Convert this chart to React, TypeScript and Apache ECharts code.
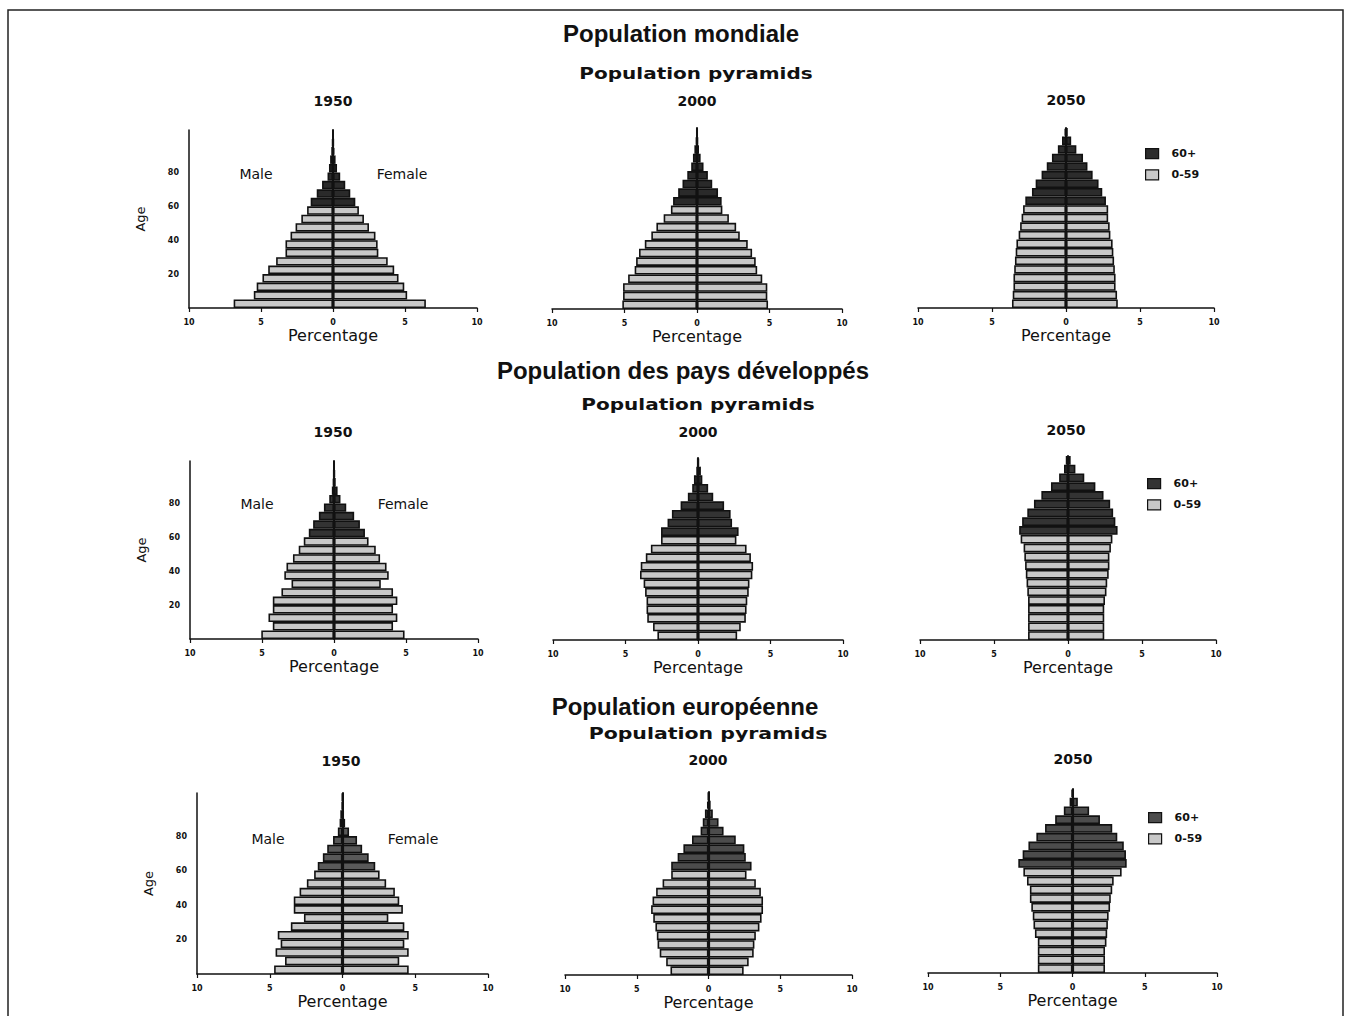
import React, { useEffect, useRef } from "react";
import * as echarts from "echarts";

// ---------- data ----------
const ageGroups = [
  "0-4", "5-9", "10-14", "15-19", "20-24", "25-29", "30-34", "35-39", "40-44", "45-49",
  "50-54", "55-59", "60-64", "65-69", "70-74", "75-79", "80-84", "85-89", "90-94", "95-99", "100+",
];
const oldStartIndex = 12; // 60+
const ageTicks = [20, 40, 60, 80];
const years = ["1950", "2000", "2050"];
const regionTitles = ["Population mondiale", "Population des pays développés", "Population européenne"];
const subTitle = "Population pyramids";
const legendNames = ["60+", "0-59"];

const world1950Male = [6.9, 5.5, 5.3, 4.9, 4.5, 3.95, 3.3, 3.3, 2.95, 2.6, 2.2, 1.8, 1.55, 1.13, 0.76, 0.38, 0.28, 0.2, 0.12, 0.06, 0.02];
const world1950Female = [6.45, 5.15, 4.95, 4.55, 4.25, 3.8, 3.15, 3.1, 2.95, 2.5, 2.15, 1.8, 1.55, 1.2, 0.85, 0.5, 0.28, 0.18, 0.1, 0.05, 0.02];
const world2000Male = [5.15, 5.1, 5.1, 4.75, 4.3, 4.2, 4.0, 3.6, 3.15, 2.8, 2.3, 1.8, 1.65, 1.3, 1.0, 0.67, 0.4, 0.28, 0.18, 0.08, 0.03];
const world2000Female = [4.9, 4.85, 4.85, 4.5, 4.15, 4.05, 3.8, 3.5, 2.95, 2.7, 2.2, 1.75, 1.7, 1.45, 1.05, 0.75, 0.45, 0.25, 0.14, 0.07, 0.03];
const world2050Male = [3.65, 3.6, 3.55, 3.55, 3.5, 3.45, 3.4, 3.35, 3.2, 3.1, 3.0, 2.9, 2.75, 2.3, 2.05, 1.65, 1.3, 0.95, 0.55, 0.27, 0.1];
const world2050Female = [3.5, 3.45, 3.35, 3.35, 3.3, 3.25, 3.2, 3.15, 3.0, 2.95, 2.85, 2.85, 2.7, 2.45, 2.2, 1.8, 1.45, 1.15, 0.7, 0.35, 0.12];

const dev1950Male = [5.05, 4.25, 4.55, 4.25, 4.25, 3.65, 2.95, 3.45, 3.3, 2.85, 2.45, 2.1, 1.75, 1.45, 1.05, 0.7, 0.33, 0.15, 0.08, 0.04, 0.02];
const dev1950Female = [4.9, 4.1, 4.4, 4.1, 4.4, 4.1, 3.25, 3.8, 3.65, 3.2, 2.9, 2.4, 2.15, 1.8, 1.4, 0.85, 0.45, 0.25, 0.12, 0.06, 0.03];
const dev2000Male = [2.8, 3.1, 3.5, 3.55, 3.55, 3.65, 3.75, 4.0, 3.95, 3.6, 3.25, 2.55, 2.55, 2.1, 1.8, 1.2, 0.7, 0.4, 0.28, 0.12, 0.04];
const dev2000Female = [2.7, 2.95, 3.3, 3.35, 3.4, 3.5, 3.55, 3.75, 3.8, 3.65, 3.35, 2.65, 2.8, 2.35, 2.25, 1.8, 1.05, 0.7, 0.3, 0.2, 0.06];
const dev2050Male = [2.7, 2.7, 2.7, 2.7, 2.7, 2.75, 2.8, 2.85, 2.9, 2.95, 3.0, 3.2, 3.3, 3.1, 2.75, 2.3, 1.8, 1.15, 0.6, 0.27, 0.15];
const dev2050Female = [2.45, 2.45, 2.45, 2.45, 2.5, 2.6, 2.65, 2.75, 2.8, 2.8, 2.9, 3.0, 3.35, 3.2, 3.05, 2.85, 2.4, 1.85, 1.1, 0.5, 0.18];

const eu1950Male = [4.7, 3.95, 4.6, 4.25, 4.45, 3.55, 2.65, 3.35, 3.35, 2.95, 2.45, 1.95, 1.7, 1.35, 1.05, 0.65, 0.32, 0.2, 0.15, 0.05, 0.02];
const eu1950Female = [4.55, 3.9, 4.55, 4.25, 4.55, 4.25, 3.15, 4.15, 3.9, 3.6, 3.0, 2.55, 2.25, 1.8, 1.35, 1.0, 0.45, 0.18, 0.1, 0.05, 0.02];
const eu2000Male = [2.65, 2.95, 3.4, 3.55, 3.6, 3.7, 3.85, 4.0, 3.9, 3.65, 3.2, 2.6, 2.6, 2.15, 1.75, 1.15, 0.55, 0.4, 0.25, 0.1, 0.03];
const eu2000Female = [2.45, 2.8, 3.15, 3.2, 3.3, 3.55, 3.7, 3.8, 3.8, 3.65, 3.3, 2.65, 3.0, 2.6, 2.5, 1.9, 1.05, 0.7, 0.3, 0.15, 0.04];
const eu2050Male = [2.4, 2.4, 2.4, 2.4, 2.6, 2.7, 2.75, 2.85, 2.95, 2.95, 3.15, 3.4, 3.75, 3.45, 3.05, 2.5, 1.9, 1.2, 0.6, 0.2, 0.06];
const eu2050Female = [2.25, 2.25, 2.25, 2.35, 2.4, 2.45, 2.5, 2.6, 2.65, 2.75, 2.85, 3.4, 3.75, 3.7, 3.55, 3.1, 2.75, 1.9, 1.15, 0.37, 0.1];

const pyramids = [
  { male: world1950Male, female: world1950Female },
  { male: world2000Male, female: world2000Female },
  { male: world2050Male, female: world2050Female },
  { male: dev1950Male, female: dev1950Female },
  { male: dev2000Male, female: dev2000Female },
  { male: dev2050Male, female: dev2050Female },
  { male: eu1950Male, female: eu1950Female },
  { male: eu2000Male, female: eu2000Female },
  { male: eu2050Male, female: eu2050Female },
];

// ---------- layout & style ----------
const grids = [
  { left: 189, top: 130, width: 288, height: 178 },
  { left: 552, top: 128, width: 290, height: 181 },
  { left: 918, top: 128, width: 296, height: 180 },
  { left: 190, top: 461, width: 288, height: 178 },
  { left: 553, top: 458, width: 290, height: 182 },
  { left: 920, top: 456, width: 296, height: 184 },
  { left: 197, top: 793, width: 291, height: 181 },
  { left: 565, top: 792, width: 287, height: 183 },
  { left: 928, top: 789, width: 289, height: 184 },
];
const darkColors = ["#2a2a2a", "#2a2a2a", "#2c2c2c", "#333333", "#333333", "#333333", "#595959", "#4c4c4c", "#4c4c4c"];
const lightColor = "#c8c8c8";
const ink = "#111111";
const FONT = "'DejaVu Sans', Verdana, sans-serif";
const TITLE_FONT = "'Liberation Sans', Arial, sans-serif";

const rowTitlePos = [
  { x: 681, y: 33 },
  { x: 683, y: 370 },
  { x: 685, y: 706 },
];
const subTitlePos = [
  { x: 696, y: 73, sx: 1.25 },
  { x: 698, y: 404, sx: 1.25 },
  { x: 708, y: 733, sx: 1.28 },
];
const yearPos = [
  [{ x: 333, y: 101 }, { x: 697, y: 101 }, { x: 1066, y: 100 }],
  [{ x: 333, y: 432 }, { x: 698, y: 432 }, { x: 1066, y: 430 }],
  [{ x: 341, y: 761 }, { x: 708, y: 760 }, { x: 1073, y: 759 }],
];
const sexPos = [
  { male: { x: 256, y: 174 }, female: { x: 402, y: 174 } },
  { male: { x: 257, y: 504 }, female: { x: 403, y: 504 } },
  { male: { x: 268, y: 839 }, female: { x: 413, y: 839 } },
];
const legendPos = [
  { left: 1145, top: 148, grid: 2 },
  { left: 1147, top: 478, grid: 5 },
  { left: 1148, top: 812, grid: 8 },
];

function text(t: string, x: number, y: number, font: string, sx = 1) {
  return {
    type: "text",
    x,
    y,
    scaleX: sx,
    silent: true,
    z: 10,
    style: {
      text: t,
      fill: ink,
      font,
      textAlign: "center",
      textVerticalAlign: "middle",
      align: "center",
      verticalAlign: "middle",
    },
  };
}

function buildOption() {
  const xAxis: any[] = [];
  const yAxis: any[] = [];
  const series: any[] = [];

  grids.forEach((_, g) => {
    xAxis.push({
      type: "value",
      gridIndex: g,
      min: -10,
      max: 10,
      interval: 5,
      position: "bottom",
      axisLine: { show: true, onZero: false, lineStyle: { color: ink, width: 1.5 } },
      axisTick: { show: true, length: 4, lineStyle: { color: ink, width: 1.2 } },
      splitLine: { show: false },
      axisLabel: {
        formatter: (v: number) => String(Math.abs(v)),
        fontSize: 8,
        fontWeight: "bold",
        fontFamily: FONT,
        color: ink,
        margin: 10,
      },
      name: "Percentage",
      nameLocation: "middle",
      nameGap: 19,
      nameTextStyle: { fontSize: 16, fontFamily: FONT, color: ink },
    });
    // category axis (hidden labels) carrying the bars; its line is the central spine
    yAxis.push({
      type: "category",
      gridIndex: g,
      data: ageGroups,
      position: "left",
      z: 5,
      axisLine: { show: true, onZero: true, lineStyle: { color: ink, width: 2 } },
      axisTick: { show: false },
      axisLabel: { show: false },
      splitLine: { show: false },
    });
  });

  // age value axes for first column
  grids.forEach((_, g) => {
    if (g % 3 !== 0) return;
    yAxis.push({
      type: "value",
      gridIndex: g,
      min: 0,
      max: 105,
      interval: 20,
      position: "left",
      axisLine: { show: true, onZero: false, lineStyle: { color: ink, width: 1.5 } },
      axisTick: { show: false },
      splitLine: { show: false },
      axisLabel: {
        formatter: (v: number) => (ageTicks.includes(v) ? String(v) : ""),
        fontSize: 8,
        fontWeight: "bold",
        fontFamily: FONT,
        color: ink,
        margin: 10,
        showMaxLabel: false,
      },
      name: "Age",
      nameLocation: "middle",
      nameGap: 42,
      nameRotate: 90,
      nameTextStyle: { fontSize: 13, fontFamily: FONT, color: ink },
    });
  });

  pyramids.forEach((p, g) => {
    const dark = darkColors[g];
    const split = (arr: number[], sign: number, old: boolean) =>
      arr.map((v, i) => ((i >= oldStartIndex) === old ? sign * v : null));
    const base = {
      type: "bar",
      xAxisIndex: g,
      yAxisIndex: g,
      stack: "pyr" + g,
      barCategoryGap: "0%",
      barWidth: "100%",
      z: 2,
    };
    const style = (color: string) => ({ color, borderColor: ink, borderWidth: 1.6 });
    series.push(
      { ...base, name: "0-59", data: split(p.male, -1, false), itemStyle: style(lightColor) },
      { ...base, name: "60+", data: split(p.male, -1, true), itemStyle: style(dark) },
      { ...base, name: "0-59", data: split(p.female, 1, false), itemStyle: style(lightColor) },
      { ...base, name: "60+", data: split(p.female, 1, true), itemStyle: style(dark) }
    );
  });

  const legend = legendPos.map((lp) => ({
    orient: "vertical",
    left: lp.left,
    top: lp.top,
    padding: 0,
    itemWidth: 13,
    itemHeight: 10,
    itemGap: 10,
    icon: "rect",
    selectedMode: false,
    data: legendNames.map((n) => ({
      name: n,
      itemStyle: { color: n === "60+" ? darkColors[lp.grid] : lightColor, borderColor: ink, borderWidth: 1.2 },
    })),
    textStyle: { fontSize: 11, fontWeight: "bold", fontFamily: FONT, color: ink, padding: [0, 0, 0, 8] },
  }));

  const graphic: any[] = [
    {
      type: "rect",
      silent: true,
      shape: { x: 8, y: 10, width: 1335, height: 1012 },
      style: { fill: "none", stroke: "#222", lineWidth: 1.5 },
    },
  ];
  regionTitles.forEach((t, r) => {
    graphic.push(text(t, rowTitlePos[r].x, rowTitlePos[r].y, `bold 24px ${TITLE_FONT}`));
    graphic.push(text(subTitle, subTitlePos[r].x, subTitlePos[r].y, `bold 16px ${FONT}`, subTitlePos[r].sx));
    years.forEach((yr, c) => {
      graphic.push(text(yr, yearPos[r][c].x, yearPos[r][c].y, `bold 14px ${FONT}`));
    });
    graphic.push(text("Male", sexPos[r].male.x, sexPos[r].male.y, `14px ${FONT}`));
    graphic.push(text("Female", sexPos[r].female.x, sexPos[r].female.y, `14px ${FONT}`));
  });

  return {
    animation: false,
    backgroundColor: "#ffffff",
    textStyle: { fontFamily: FONT },
    grid: grids.map((gr) => ({ ...gr, containLabel: false })),
    xAxis,
    yAxis,
    series,
    legend,
    graphic,
  };
}

export default function App() {
  const ref = useRef<HTMLDivElement>(null);
  useEffect(() => {
    if (!ref.current) return;
    const chart = echarts.init(ref.current, undefined, { renderer: "svg" });
    chart.setOption(buildOption() as any);
    return () => chart.dispose();
  }, []);
  return (
    <div
      ref={ref}
      style={{ position: "absolute", left: 0, top: 0, width: 1346, height: 1016, background: "#fff" }}
    />
  );
}
